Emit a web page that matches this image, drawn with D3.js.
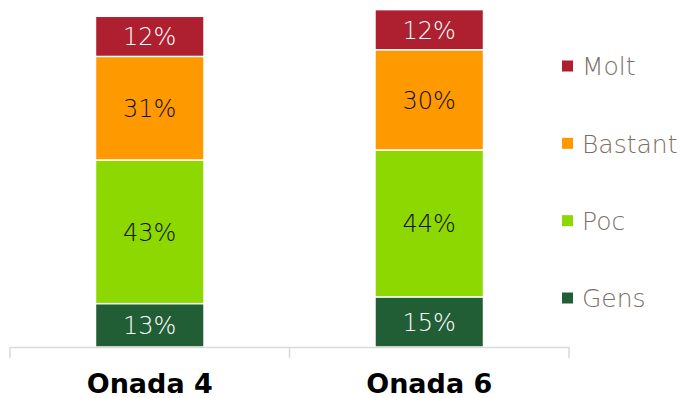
<!DOCTYPE html>
<html>
<head>
<meta charset="utf-8">
<script src="https://cdn.jsdelivr.net/npm/d3@7"></script>
<style>
  html, body { margin: 0; padding: 0; background: #fff; }
  svg { display: block; }
</style>
</head>
<body>
<svg id="chart" width="682" height="398"></svg>
<script>
// Survey waves and response shares (%), stacked bottom to top
const waves = ["Onada 4", "Onada 6"];
const levels = ["Gens", "Poc", "Bastant", "Molt"];
const gens = [13, 15];
const poc = [43, 44];
const bastant = [31, 30];
const molt = [12, 12];
const levelColors = ["#225e35", "#8cd800", "#ff9900", "#ae1f2f"];
const labelColors = ["#ffffff", "#111111", "#111111", "#ffffff"];

const seriesValues = [gens, poc, bastant, molt];
const rows = waves.map((w, i) => {
  const r = { wave: w };
  levels.forEach((l, j) => { r[l] = seriesValues[j][i]; });
  return r;
});

const svg = d3.select("#chart");
const baseY = 347;

const x = d3.scaleBand().domain(waves).range([10, 569]).padding(0);
const y = d3.scaleLinear().domain([0, 100]).range([baseY, baseY - 334]);
const color = d3.scaleOrdinal().domain(levels).range(levelColors);
const textColor = d3.scaleOrdinal().domain(levels).range(labelColors);

const barW = x.bandwidth() * 0.388;
const stacked = d3.stack().keys(levels)(rows);

const fontFamily = "'DejaVu Sans', sans-serif";

const layers = svg.append("g").selectAll("g")
  .data(stacked)
  .join("g")
  .attr("fill", d => color(d.key));

layers.selectAll("rect")
  .data(d => d.map(p => Object.assign(p, { key: d.key })))
  .join("rect")
  .attr("x", d => x(d.data.wave) + (x.bandwidth() - barW) / 2)
  .attr("y", d => y(d[1]))
  .attr("width", barW)
  .attr("height", d => y(d[0]) - y(d[1]))
  .attr("stroke", "#ffffff")
  .attr("stroke-width", 1.4);

layers.selectAll("text")
  .data(d => d)
  .join("text")
  .attr("x", d => x(d.data.wave) + x.bandwidth() / 2)
  .attr("y", d => (y(d[0]) + y(d[1])) / 2)
  .attr("dy", "0.37em")
  .attr("text-anchor", "middle")
  .attr("fill", d => textColor(d.key))
  .style("font-family", fontFamily)
  .style("font-weight", 200)
  .style("font-size", "24px")
  .text(d => (d[1] - d[0]) + "%");

// Category axis with tick separators between waves
const axis = d3.axisBottom(x).tickSize(0).tickFormat(d => d);
const gAxis = svg.append("g").attr("transform", `translate(0,${baseY})`).call(axis);
gAxis.select(".domain").attr("stroke", "#d9d9d9").attr("stroke-width", 1.5);
gAxis.selectAll(".tick text")
  .attr("y", 46)
  .attr("dy", 0)
  .attr("fill", "#000")
  .style("font-family", fontFamily)
  .style("font-weight", "bold")
  .style("font-size", "27px");

const sepX = [x.range()[0], ...waves.slice(1).map(w => x(w)), x.range()[1]];
gAxis.selectAll("line.sep")
  .data(sepX)
  .join("line")
  .attr("class", "sep")
  .attr("x1", d => d).attr("x2", d => d)
  .attr("y1", 0).attr("y2", 11)
  .attr("stroke", "#d9d9d9")
  .attr("stroke-width", 1.5);

// Legend, top item is the top of the stack
const legendOrder = levels.slice().reverse();
const ly = d3.scalePoint().domain(legendOrder).range([66, 298]);
const legend = svg.append("g").selectAll("g")
  .data(legendOrder)
  .join("g")
  .attr("transform", d => `translate(562,${ly(d)})`);
legend.append("rect")
  .attr("x", 0).attr("y", -5.5)
  .attr("width", 11).attr("height", 11)
  .attr("fill", d => color(d));
legend.append("text")
  .attr("x", 20)
  .attr("y", 0)
  .attr("dy", "0.37em")
  .attr("fill", "#7b6f66")
  .style("font-family", fontFamily)
  .style("font-weight", 200)
  .style("font-size", "25px")
  .text(d => d);
</script>
</body>
</html>
